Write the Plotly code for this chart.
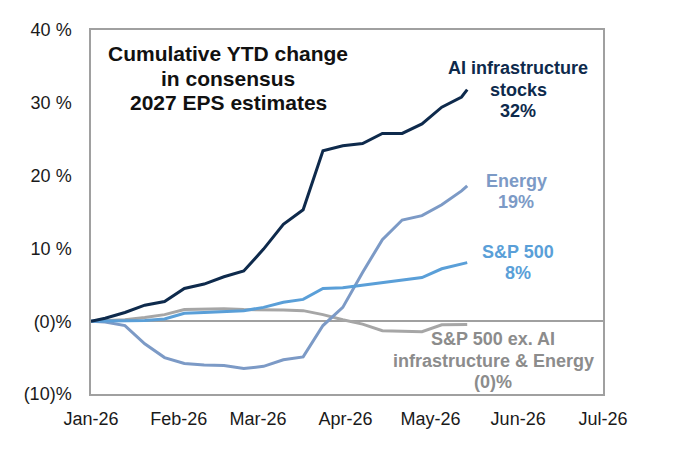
import plotly.graph_objects as go

# ---- data ----
dates = ["2026-01-01", "2026-01-06", "2026-01-13", "2026-01-20", "2026-01-27",
         "2026-02-03", "2026-02-10", "2026-02-17", "2026-02-24",
         "2026-03-03", "2026-03-10", "2026-03-17", "2026-03-24", "2026-03-31",
         "2026-04-07", "2026-04-14", "2026-04-21", "2026-04-28",
         "2026-05-05", "2026-05-12", "2026-05-14"]

ai_infra = [0, 0.4, 1.2, 2.2, 2.7, 4.5, 5.1, 6.1, 6.9, 9.9, 13.3, 15.3, 23.4, 24.1,
            24.4, 25.8, 25.8, 27.1, 29.4, 30.8, 31.8]
energy = [0, -0.1, -0.6, -3.1, -5.0, -5.8, -6.0, -6.1, -6.5, -6.2, -5.3, -4.9, -0.6, 1.9,
          6.7, 11.2, 13.9, 14.5, 16.0, 17.9, 18.6]
sp500 = [0, 0, 0.1, 0.1, 0.3, 1.1, 1.2, 1.3, 1.45, 1.9, 2.6, 3.0, 4.5, 4.6,
         4.95, 5.3, 5.6, 6.0, 7.2, 7.8, 8.05]
sp500_ex = [0, 0.1, 0.2, 0.5, 0.9, 1.6, 1.7, 1.7, 1.6, 1.6, 1.55, 1.45, 0.9, 0.2,
            -0.4, -1.3, -1.4, -1.45, -0.5, -0.45, -0.45]

y_tickvals = [-10, 0, 10, 20, 30, 40]
y_ticktext = ["(10)%", "(0)%", "10 %", "20 %", "30 %", "40 %"]
x_tickvals = ["2026-01-01", "2026-02-01", "2026-03-01", "2026-04-01",
              "2026-05-01", "2026-06-01", "2026-07-01"]
x_ticktext = ["Jan-26", "Feb-26", "Mar-26", "Apr-26", "May-26", "Jun-26", "Jul-26"]

# ---- styles ----
FONT = "Arial, Liberation Sans, sans-serif"
C_AI = "#0E2A4C"
C_EN = "#7C9AC6"
C_SP = "#5A9FD8"
C_EX = "#A6A6A6"
C_EX_TXT = "#8C8C8C"

OFF = 8  # page body margin
W, H = 680 - OFF, 474 - OFF
L, R, T, B = 91 - OFF, 603 - OFF, 24 - OFF, 394 - OFF


def px(x):
    return (x - OFF - L) / (R - L)


def py(y):
    return (B - (y - OFF)) / (B - T)


fig = go.Figure()
for vals, col in [(sp500_ex, C_EX), (energy, C_EN), (sp500, C_SP), (ai_infra, C_AI)]:
    fig.add_trace(go.Scatter(x=dates, y=vals, mode="lines",
                             line=dict(color=col, width=3), showlegend=False))

ann = []


def label(text, x, y, color, size=18):
    ann.append(dict(text="<b>%s</b>" % text, x=px(x), y=py(y), xref="paper", yref="paper",
                    xanchor="center", yanchor="middle", showarrow=False,
                    font=dict(family=FONT, size=size, color=color)))


label("Cumulative YTD change", 228, 48, "#111111", 21)
label("in consensus", 228, 73, "#111111", 21)
label("2027 EPS estimates", 228, 98, "#111111", 21)

label("AI infrastructure", 518, 63, C_AI)
label("stocks", 518, 84.5, C_AI)
label("32%", 518, 106, C_AI)

label("Energy", 516, 177.5, C_EN)
label("19%", 516, 199, C_EN)

label("S&P 500", 518, 250, C_SP)
label("8%", 518, 271, C_SP)

label("S&P 500 ex. AI", 493, 338.5, C_EX_TXT)
label("infrastructure & Energy", 493, 360.5, C_EX_TXT)
label("(0)%", 493, 382, C_EX_TXT)

fig.update_layout(
    width=W, height=H,
    margin=dict(l=L, r=W - R, t=T, b=H - B, pad=0),
    paper_bgcolor="white", plot_bgcolor="white",
    font=dict(family=FONT, size=18, color="#1a1a1a"),
    annotations=ann,
)
fig.update_xaxes(type="date", range=["2026-01-01", "2026-07-01"],
                 tickvals=x_tickvals, ticktext=x_ticktext,
                 showgrid=False, zeroline=False, ticks="",
                 showline=True, linecolor="#A0A0A0", linewidth=1.5, mirror=True,
                 ticklabelstandoff=8,
                 tickfont=dict(family=FONT, size=18, color="#1a1a1a"))
fig.update_yaxes(range=[-10, 40], tickvals=y_tickvals, ticktext=y_ticktext,
                 showgrid=False, ticks="",
                 zeroline=True, zerolinecolor="#A0A0A0", zerolinewidth=1.5,
                 showline=True, linecolor="#A0A0A0", linewidth=1.5, mirror=True,
                 ticklabelstandoff=14,
                 tickfont=dict(family=FONT, size=18, color="#1a1a1a"))

fig.write_html("out.html")
